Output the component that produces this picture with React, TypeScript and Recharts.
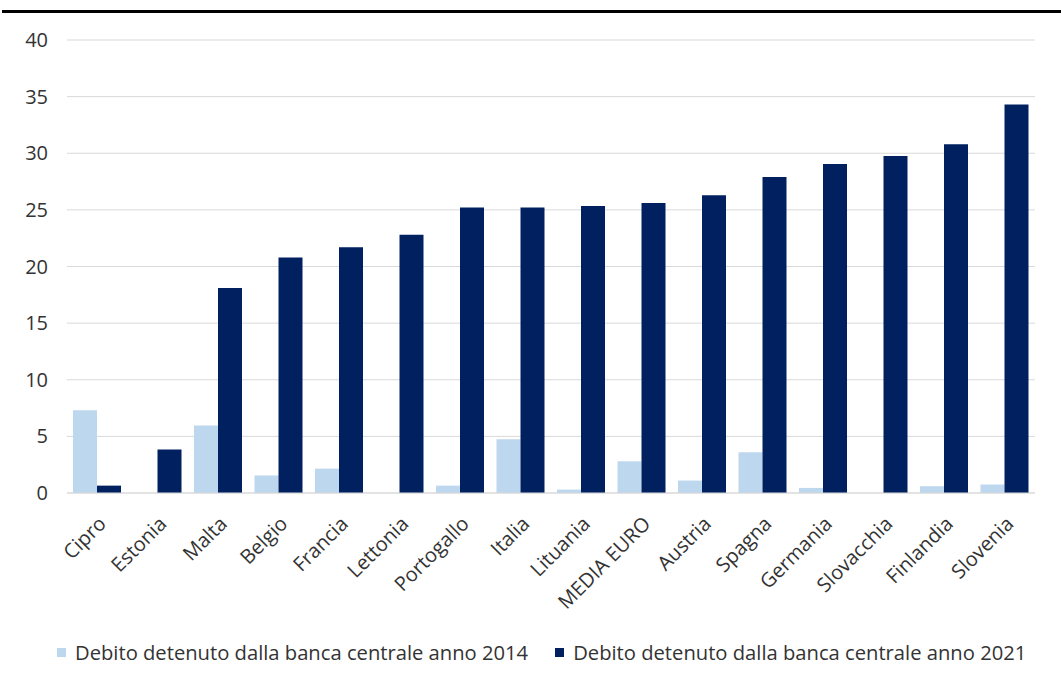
import { BarChart, Bar, XAxis, YAxis, CartesianGrid, Legend } from "recharts";

const countries = [
  "Cipro",
  "Estonia",
  "Malta",
  "Belgio",
  "Francia",
  "Lettonia",
  "Portogallo",
  "Italia",
  "Lituania",
  "MEDIA EURO",
  "Austria",
  "Spagna",
  "Germania",
  "Slovacchia",
  "Finlandia",
  "Slovenia",
];
const debt2014 = [7.3, 0, 5.95, 1.55, 2.15, 0, 0.65, 4.75, 0.3, 2.8, 1.1, 3.6, 0.45, 0, 0.6, 0.75];
const debt2021 = [0.65, 3.85, 18.1, 20.8, 21.7, 22.8, 25.2, 25.2, 25.35, 25.6, 26.3, 27.9, 29.05, 29.75, 30.8, 34.3];
const yTicks = [0, 5, 10, 15, 20, 25, 30, 35, 40];

const series = [
  { key: "y2014", label: "Debito detenuto dalla banca centrale anno 2014", color: "#BDD7EE" },
  { key: "y2021", label: "Debito detenuto dalla banca centrale anno 2021", color: "#002060" },
];

const data = countries.map((name, i) => ({
  name,
  y2014: debt2014[i],
  y2021: debt2021[i],
}));

const FONT = "'Open Sans', sans-serif";
const TEXT = "#333333";

const LegendRow = () => (
  <div
    style={{
      height: 26,
      display: "flex",
      alignItems: "center",
      paddingLeft: 57,
      fontFamily: FONT,
      fontSize: 20.2,
      color: TEXT,
      whiteSpace: "nowrap",
    }}
  >
    {series.map((s, i) => (
      <span
        key={s.key}
        style={{ display: "flex", alignItems: "center", marginRight: i === 0 ? 27 : 0 }}
      >
        <span
          style={{ width: 9, height: 9, background: s.color, marginRight: 9, display: "inline-block" }}
        />
        {s.label}
      </span>
    ))}
  </div>
);

export default function App() {
  return (
    <div style={{ position: "absolute", left: 0, top: 0, width: 1061, height: 684, background: "#fff" }}>
      <div style={{ position: "absolute", left: 2, top: 10, width: 1059, height: 3, background: "#000" }} />
      <BarChart
        width={1061}
        height={684}
        data={data}
        margin={{ top: 40, right: 26, bottom: 19, left: 0 }}
        barCategoryGap={6}
        barGap={0}
      >
        <CartesianGrid vertical={false} stroke="#D9D9D9" />
        <XAxis
          dataKey="name"
          interval={0}
          height={146}
          tickLine={false}
          tickSize={0}
          tickMargin={22}
          axisLine={{ stroke: "#D9D9D9" }}
          tick={{ fill: TEXT, fontSize: 20, fontFamily: FONT, angle: -45, textAnchor: "end" }}
        />
        <YAxis
          width={67}
          domain={[0, 40]}
          ticks={yTicks}
          axisLine={false}
          tickLine={false}
          tickSize={0}
          tickMargin={19}
          tick={{ fill: TEXT, fontSize: 20, fontFamily: FONT }}
        />
        <Legend verticalAlign="bottom" content={<LegendRow />} />
        {series.map((s) => (
          <Bar key={s.key} dataKey={s.key} name={s.label} fill={s.color} isAnimationActive={false} />
        ))}
      </BarChart>
    </div>
  );
}
